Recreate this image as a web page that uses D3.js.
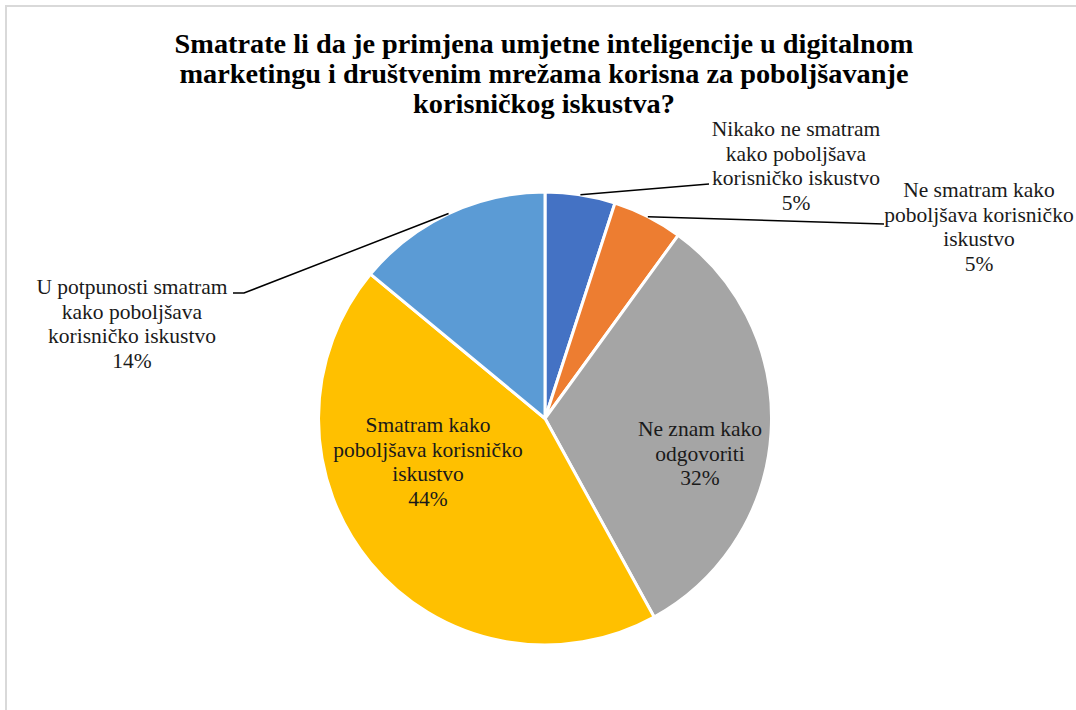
<!DOCTYPE html>
<html>
<head>
<meta charset="utf-8">
<script src="https://cdn.jsdelivr.net/npm/d3@7"></script>
<style>
  html, body { margin: 0; padding: 0; background: #fff; }
  svg { display: block; }
</style>
</head>
<body>
<svg id="chart" width="1076" height="710"></svg>
<script>
// Survey answers, in the order the slices run clockwise from 12 o'clock
const categories = [
  "Nikako ne smatram kako poboljšava korisničko iskustvo",
  "Ne smatram kako poboljšava korisničko iskustvo",
  "Ne znam kako odgovoriti",
  "Smatram kako poboljšava korisničko iskustvo",
  "U potpunosti smatram kako poboljšava korisničko iskustvo"
];
const values = [5, 5, 32, 44, 14];
const colors = ["#4472C4", "#ED7D31", "#A5A5A5", "#FFC000", "#5B9BD5"];
// How each data label is broken into lines (percentage added last)
const labelLines = [
  ["Nikako ne smatram", "kako poboljšava", "korisničko iskustvo"],
  ["Ne smatram kako", "poboljšava korisničko", "iskustvo"],
  ["Ne znam kako", "odgovoriti"],
  ["Smatram kako", "poboljšava korisničko", "iskustvo"],
  ["U potpunosti smatram", "kako poboljšava", "korisničko iskustvo"]
];
const titleLines = [
  "Smatrate li da je primjena umjetne inteligencije u digitalnom",
  "marketingu i društvenim mrežama korisna za poboljšavanje",
  "korisničkog iskustva?"
];

const FONT = "Liberation Serif";
const svg = d3.select("#chart");

// One text element per line, each carrying its own font settings
function textLine(x, y, str, size, weight, fill) {
  return svg.append("text")
    .attr("x", x).attr("y", y)
    .attr("text-anchor", "middle")
    .attr("font-family", FONT)
    .style("font-family", FONT)
    .style("font-size", size + "px")
    .style("font-weight", weight)
    .attr("fill", fill)
    .text(str);
}

// Chart area frame (runs off the right and bottom edges)
svg.append("rect")
  .attr("x", 6).attr("y", 6)
  .attr("width", 1200).attr("height", 900)
  .attr("fill", "none")
  .attr("stroke", "#d9d9d9")
  .attr("stroke-width", 2);

// Title
titleLines.forEach((t, i) => textLine(544, 53 + i * 30, t, 28.3, "bold", "#000"));

// Pie
const cx = 545, cy = 418.5, radius = 226.5;
const g = svg.append("g").attr("transform", `translate(${cx},${cy})`);

const pie = d3.pie().sort(null).value(d => d)(values);
const arc = d3.arc().innerRadius(0).outerRadius(radius);

g.selectAll("path.slice")
  .data(pie)
  .join("path")
  .attr("class", "slice")
  .attr("d", arc)
  .attr("fill", (d, i) => colors[i])
  .attr("stroke", "#fff")
  .attr("stroke-width", 3)
  .attr("stroke-linejoin", "round");

// Label placement: inside labels for the big slices, callouts for the rest
const labelPos = [
  { x: 796, y: 136, inside: false, leader: [[709, 184]] },
  { x: 979, y: 197, inside: false, leader: [[884, 224]] },
  { x: 700, y: 436, inside: true },
  { x: 428, y: 432, inside: true },
  { x: 132, y: 294, inside: false, leader: [[244, 293], [233, 293]] }
];
const lineH = 24.5;

pie.forEach((d, i) => {
  const p = labelPos[i];
  if (!p.inside) {
    const mid = (d.startAngle + d.endAngle) / 2;
    const start = [cx + radius * Math.sin(mid), cy - radius * Math.cos(mid)];
    svg.append("path")
      .attr("d", d3.line()([start, ...p.leader]))
      .attr("fill", "none")
      .attr("stroke", "#000")
      .attr("stroke-width", 1.5);
  }
  const lines = [...labelLines[i], d.data + "%"];
  lines.forEach((s, k) => textLine(p.x, p.y + k * lineH, s, 21.5, "normal", "#1a1a1a"));
});
</script>
</body>
</html>
